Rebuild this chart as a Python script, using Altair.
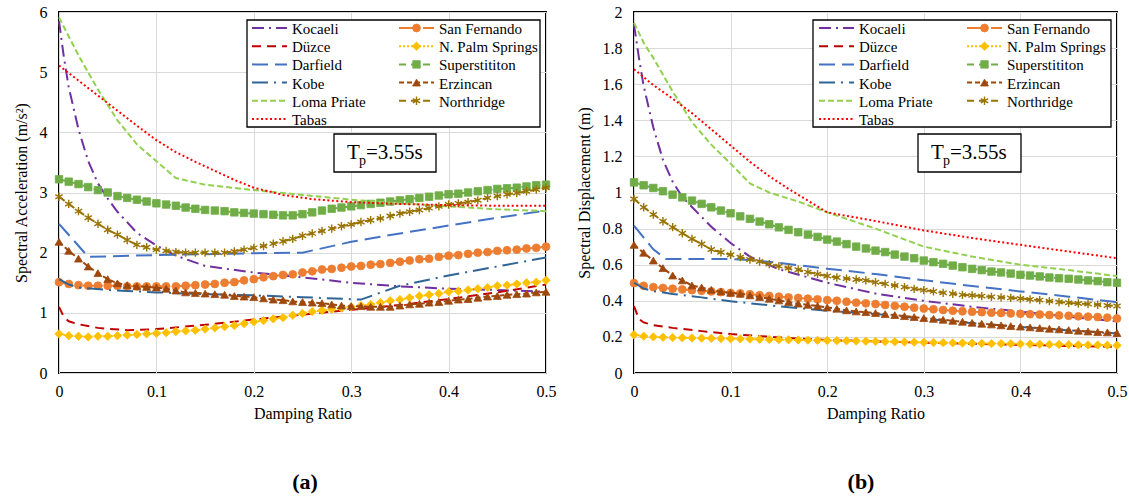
import altair as alt
import pandas as pd

FONT = "Liberation Serif"

# ---------------- x grid (damping ratio, step 0.01) ----------------
damping = [0.00, 0.01, 0.02, 0.03, 0.04, 0.05, 0.06, 0.07, 0.08, 0.09,
           0.10, 0.11, 0.12, 0.13, 0.14, 0.15, 0.16, 0.17, 0.18, 0.19,
           0.20, 0.21, 0.22, 0.23, 0.24, 0.25, 0.26, 0.27, 0.28, 0.29,
           0.30, 0.31, 0.32, 0.33, 0.34, 0.35, 0.36, 0.37, 0.38, 0.39,
           0.40, 0.41, 0.42, 0.43, 0.44, 0.45, 0.46, 0.47, 0.48, 0.49,
           0.50]

# ---------------- panel (a): spectral acceleration ----------------
koc_a_x = [0, 0.005, 0.01, 0.02, 0.03, 0.04, 0.05, 0.06, 0.08, 0.10, 0.12, 0.15, 0.20, 0.25, 0.30, 0.35, 0.40, 0.45, 0.50]
koc_a = [5.85, 5.25, 4.75, 4.05, 3.52, 3.15, 2.90, 2.68, 2.33, 2.12, 1.95, 1.78, 1.67, 1.59, 1.50, 1.44, 1.40, 1.38, 1.35]
duz_a_x = [0, 0.005, 0.01, 0.02, 0.04, 0.07, 0.10, 0.15, 0.20, 0.25, 0.30, 0.35, 0.40, 0.45, 0.50]
duz_a = [1.10, 0.93, 0.86, 0.81, 0.75, 0.71, 0.73, 0.80, 0.89, 0.97, 1.05, 1.13, 1.23, 1.34, 1.47]
dar_a_x = [0, 0.03, 0.10, 0.20, 0.25, 0.30, 0.35, 0.40, 0.45, 0.50]
dar_a = [2.48, 1.93, 1.96, 1.99, 2.00, 2.18, 2.32, 2.45, 2.58, 2.70]
kob_a_x = [0, 0.01, 0.02, 0.05, 0.10, 0.15, 0.20, 0.25, 0.31, 0.35, 0.40, 0.45, 0.50]
kob_a = [1.56, 1.47, 1.42, 1.38, 1.34, 1.31, 1.29, 1.26, 1.22, 1.45, 1.62, 1.77, 1.92]
lom_a_x = [0, 0.02, 0.04, 0.06, 0.08, 0.10, 0.12, 0.15, 0.20, 0.25, 0.30, 0.35, 0.40, 0.45, 0.50]
lom_a = [5.91, 5.28, 4.71, 4.20, 3.80, 3.52, 3.24, 3.13, 3.04, 2.96, 2.88, 2.82, 2.77, 2.72, 2.69]
tab_a_x = [0, 0.02, 0.04, 0.06, 0.08, 0.10, 0.12, 0.14, 0.16, 0.18, 0.20, 0.23, 0.26, 0.30, 0.35, 0.40, 0.45, 0.50]
tab_a = [5.11, 4.86, 4.61, 4.36, 4.11, 3.87, 3.67, 3.51, 3.36, 3.21, 3.08, 2.96, 2.89, 2.84, 2.81, 2.79, 2.78, 2.78]

sf_a = [1.51, 1.48, 1.46, 1.45, 1.45, 1.45, 1.45, 1.44, 1.44, 1.44,
        1.44, 1.44, 1.44, 1.45, 1.46, 1.47, 1.48, 1.50, 1.51, 1.54,
        1.56, 1.59, 1.61, 1.63, 1.64, 1.67, 1.69, 1.72, 1.73, 1.75,
        1.77, 1.78, 1.80, 1.81, 1.83, 1.85, 1.87, 1.89, 1.90, 1.93,
        1.95, 1.96, 1.98, 2.00, 2.01, 2.03, 2.04, 2.05, 2.07, 2.08,
        2.10]
nps_a = [0.65, 0.62, 0.61, 0.60, 0.61, 0.61, 0.62, 0.63, 0.64, 0.65,
         0.66, 0.67, 0.69, 0.70, 0.71, 0.73, 0.75, 0.77, 0.79, 0.82,
         0.85, 0.87, 0.90, 0.92, 0.96, 0.99, 1.02, 1.04, 1.06, 1.08,
         1.10, 1.12, 1.14, 1.17, 1.20, 1.22, 1.25, 1.28, 1.30, 1.32,
         1.35, 1.36, 1.38, 1.40, 1.42, 1.45, 1.46, 1.48, 1.50, 1.51,
         1.54]
sup_a = [3.22, 3.18, 3.14, 3.09, 3.04, 3.00, 2.94, 2.91, 2.88, 2.85,
         2.82, 2.80, 2.78, 2.75, 2.73, 2.71, 2.70, 2.69, 2.67, 2.66,
         2.65, 2.64, 2.63, 2.62, 2.62, 2.64, 2.67, 2.70, 2.73, 2.75,
         2.77, 2.79, 2.81, 2.83, 2.85, 2.87, 2.89, 2.91, 2.93, 2.95,
         2.97, 2.98, 3.00, 3.02, 3.04, 3.06, 3.07, 3.08, 3.10, 3.12,
         3.13]
erz_a = [2.18, 2.03, 1.90, 1.77, 1.66, 1.56, 1.49, 1.46, 1.44, 1.43,
         1.42, 1.40, 1.37, 1.34, 1.33, 1.32, 1.31, 1.30, 1.28, 1.27,
         1.26, 1.24, 1.22, 1.21, 1.19, 1.18, 1.17, 1.16, 1.14, 1.12,
         1.11, 1.11, 1.10, 1.10, 1.10, 1.12, 1.14, 1.15, 1.17, 1.18,
         1.20, 1.22, 1.23, 1.25, 1.27, 1.28, 1.30, 1.31, 1.32, 1.34,
         1.35]
nor_a = [2.93, 2.81, 2.69, 2.58, 2.48, 2.38, 2.30, 2.21, 2.13, 2.09,
         2.05, 2.03, 2.01, 2.00, 2.00, 2.00, 2.00, 2.00, 2.02, 2.05,
         2.08, 2.11, 2.15, 2.19, 2.23, 2.28, 2.32, 2.36, 2.40, 2.44,
         2.47, 2.51, 2.54, 2.57, 2.61, 2.65, 2.68, 2.71, 2.74, 2.77,
         2.80, 2.82, 2.84, 2.87, 2.91, 2.94, 2.97, 2.99, 3.02, 3.05,
         3.08]

# ---------------- panel (b): spectral displacement ----------------
koc_b_x = [0, 0.005, 0.01, 0.02, 0.03, 0.04, 0.05, 0.06, 0.08, 0.10, 0.12, 0.15, 0.20, 0.25, 0.30, 0.35, 0.40, 0.45, 0.50]
koc_b = [1.93, 1.75, 1.59, 1.36, 1.18, 1.06, 0.975, 0.92, 0.81, 0.72, 0.645, 0.575, 0.50, 0.44, 0.40, 0.367, 0.34, 0.312, 0.286]
duz_b_x = [0, 0.005, 0.01, 0.02, 0.04, 0.07, 0.10, 0.15, 0.20, 0.25, 0.30, 0.35, 0.40, 0.45, 0.50]
duz_b = [0.37, 0.30, 0.28, 0.265, 0.25, 0.232, 0.216, 0.197, 0.183, 0.175, 0.168, 0.162, 0.156, 0.150, 0.145]
dar_b_x = [0, 0.01, 0.02, 0.033, 0.05, 0.10, 0.12, 0.15, 0.20, 0.25, 0.30, 0.35, 0.40, 0.45, 0.50]
dar_b = [0.817, 0.75, 0.685, 0.632, 0.632, 0.632, 0.626, 0.610, 0.578, 0.548, 0.514, 0.482, 0.452, 0.423, 0.393]
kob_b_x = [0, 0.01, 0.02, 0.04, 0.07, 0.10, 0.14, 0.18, 0.21, 0.25, 0.30, 0.35, 0.40, 0.45, 0.50]
kob_b = [0.50, 0.468, 0.454, 0.438, 0.419, 0.398, 0.375, 0.354, 0.341, 0.327, 0.301, 0.276, 0.255, 0.236, 0.219]
lom_b_x = [0, 0.01, 0.02, 0.04, 0.06, 0.08, 0.10, 0.12, 0.14, 0.17, 0.20, 0.25, 0.30, 0.35, 0.40, 0.45, 0.50]
lom_b = [1.94, 1.83, 1.745, 1.56, 1.39, 1.265, 1.16, 1.05, 1.00, 0.95, 0.89, 0.80, 0.70, 0.645, 0.60, 0.57, 0.537]
tab_b_x = [0, 0.02, 0.04, 0.06, 0.08, 0.10, 0.12, 0.14, 0.16, 0.18, 0.20, 0.25, 0.30, 0.35, 0.40, 0.45, 0.50]
tab_b = [1.683, 1.595, 1.52, 1.44, 1.35, 1.26, 1.17, 1.09, 1.02, 0.955, 0.89, 0.842, 0.79, 0.748, 0.71, 0.673, 0.636]

sf_b = [0.498, 0.483, 0.476, 0.471, 0.467, 0.463, 0.459, 0.455, 0.452, 0.448,
        0.444, 0.441, 0.436, 0.431, 0.427, 0.423, 0.419, 0.416, 0.412, 0.408,
        0.404, 0.400, 0.395, 0.390, 0.386, 0.382, 0.377, 0.372, 0.367, 0.362,
        0.357, 0.353, 0.349, 0.345, 0.342, 0.339, 0.337, 0.334, 0.332, 0.330,
        0.328, 0.326, 0.324, 0.321, 0.319, 0.317, 0.314, 0.312, 0.310, 0.307,
        0.302]
nps_b = [0.212, 0.204, 0.200, 0.198, 0.196, 0.195, 0.194, 0.193, 0.192, 0.191,
         0.190, 0.189, 0.188, 0.187, 0.186, 0.185, 0.184, 0.183, 0.182, 0.181,
         0.180, 0.179, 0.178, 0.177, 0.176, 0.175, 0.174, 0.173, 0.172, 0.171,
         0.170, 0.169, 0.168, 0.167, 0.166, 0.165, 0.164, 0.163, 0.163, 0.162,
         0.161, 0.160, 0.159, 0.158, 0.158, 0.157, 0.156, 0.155, 0.155, 0.154,
         0.153]
sup_b = [1.056, 1.040, 1.025, 1.007, 0.988, 0.973, 0.955, 0.937, 0.918, 0.900,
         0.885, 0.868, 0.854, 0.839, 0.824, 0.807, 0.793, 0.780, 0.767, 0.754,
         0.739, 0.728, 0.714, 0.700, 0.690, 0.678, 0.670, 0.656, 0.645, 0.636,
         0.623, 0.614, 0.605, 0.595, 0.586, 0.577, 0.570, 0.562, 0.557, 0.551,
         0.544, 0.540, 0.535, 0.529, 0.525, 0.522, 0.518, 0.513, 0.509, 0.503,
         0.500]
erz_b = [0.710, 0.666, 0.623, 0.581, 0.540, 0.513, 0.485, 0.474, 0.461, 0.452,
         0.444, 0.439, 0.430, 0.421, 0.411, 0.402, 0.393, 0.384, 0.378, 0.371,
         0.363, 0.356, 0.347, 0.341, 0.337, 0.332, 0.326, 0.321, 0.315, 0.310,
         0.304, 0.300, 0.295, 0.289, 0.284, 0.278, 0.273, 0.269, 0.264, 0.260,
         0.257, 0.253, 0.249, 0.245, 0.242, 0.238, 0.234, 0.230, 0.227, 0.225,
         0.221]
nor_b = [0.964, 0.918, 0.878, 0.841, 0.808, 0.774, 0.743, 0.715, 0.684, 0.669,
         0.655, 0.642, 0.629, 0.618, 0.603, 0.592, 0.581, 0.572, 0.559, 0.548,
         0.537, 0.529, 0.523, 0.518, 0.513, 0.503, 0.494, 0.485, 0.476, 0.466,
         0.459, 0.452, 0.444, 0.439, 0.433, 0.430, 0.426, 0.422, 0.419, 0.416,
         0.413, 0.408, 0.404, 0.398, 0.393, 0.389, 0.385, 0.382, 0.378, 0.374,
         0.371]

x_ticks = [0, 0.1, 0.2, 0.3, 0.4, 0.5]
ya_ticks = [0, 1, 2, 3, 4, 5, 6]
yb_ticks = [0, 0.2, 0.4, 0.6, 0.8, 1, 1.2, 1.4, 1.6, 1.8, 2]

STAR = "M0,-1L0,1M-0.87,-0.5L0.87,0.5M-0.87,0.5L0.87,-0.5"
STYLE = {
    "Kocaeli":         dict(color="#7030A0", dash=[12, 5, 2, 5], shape=None),
    "Düzce":           dict(color="#C00000", dash=[9, 6], shape=None),
    "Darfield":        dict(color="#4472C4", dash=[16, 7], shape=None),
    "Kobe":            dict(color="#2F6496", dash=[16, 6, 2, 6], shape=None),
    "Loma Priate":     dict(color="#92D050", dash=[6, 3], shape=None),
    "Tabas":           dict(color="#FF0000", dash=[2, 2.5], shape=None),
    "San Fernando":    dict(color="#ED7D31", dash=[14, 4, 2, 4], shape="circle", size=62, filled=True),
    "N. Palm Springs": dict(color="#FFC000", dash=[2, 2], shape="diamond", size=70, filled=True),
    "Superstititon":   dict(color="#70AD47", dash=[7, 5], shape="square", size=56, filled=True),
    "Erzincan":        dict(color="#9E480E", dash=[5, 3], shape="triangle-up", size=62, filled=True),
    "Northridge":      dict(color="#997300", dash=[7, 5], shape=STAR, size=70, filled=False),
}
DRAW_ORDER = ["Kocaeli", "San Fernando", "Düzce", "N. Palm Springs", "Darfield",
              "Superstititon", "Kobe", "Erzincan", "Loma Priate", "Northridge", "Tabas"]
LEG_COL1 = ["Kocaeli", "Düzce", "Darfield", "Kobe", "Loma Priate", "Tabas"]
LEG_COL2 = ["San Fernando", "N. Palm Springs", "Superstititon", "Erzincan", "Northridge"]

series_a = {
    "Kocaeli": (koc_a_x, koc_a), "Düzce": (duz_a_x, duz_a), "Darfield": (dar_a_x, dar_a),
    "Kobe": (kob_a_x, kob_a), "Loma Priate": (lom_a_x, lom_a), "Tabas": (tab_a_x, tab_a),
    "San Fernando": (damping, sf_a), "N. Palm Springs": (damping, nps_a),
    "Superstititon": (damping, sup_a), "Erzincan": (damping, erz_a), "Northridge": (damping, nor_a),
}
series_b = {
    "Kocaeli": (koc_b_x, koc_b), "Düzce": (duz_b_x, duz_b), "Darfield": (dar_b_x, dar_b),
    "Kobe": (kob_b_x, kob_b), "Loma Priate": (lom_b_x, lom_b), "Tabas": (tab_b_x, tab_b),
    "San Fernando": (damping, sf_b), "N. Palm Springs": (damping, nps_b),
    "Superstititon": (damping, sup_b), "Erzincan": (damping, erz_b), "Northridge": (damping, nor_b),
}

ONE = pd.DataFrame({"k": [0]})
H = 361


def point_mark(st):
    if st["filled"]:
        return dict(shape=st["shape"], size=st["size"], filled=True, fill=st["color"],
                    stroke=st["color"], strokeWidth=0.8, opacity=1)
    return dict(shape=st["shape"], size=st["size"], filled=False, stroke=st["color"],
                strokeWidth=1.4, opacity=1)


def panel(series, ymax, yticks, ytitle, width, leg, tp, tag):
    xs = alt.Scale(domain=[0, 0.5], nice=False, zero=False)
    ys = alt.Scale(domain=[0, ymax], nice=False)
    xax = alt.Axis(values=x_ticks, title="Damping Ratio",
                   labelExpr="datum.value == 0 ? '0' : format(datum.value, '.1f')",
                   labelPadding=10, titlePadding=6, labelFlush=False)
    yax = alt.Axis(values=yticks, title=ytitle, labelExpr="format(datum.value, '~g')",
                   labelPadding=12, titlePadding=10, labelFlush=False)
    layers = []
    for name in DRAW_ORDER:
        xd, yv = series[name]
        df = pd.DataFrame({"d": xd, "v": yv})
        st = STYLE[name]
        enc = dict(x=alt.X("d:Q", scale=xs, axis=xax), y=alt.Y("v:Q", scale=ys, axis=yax))
        layers.append(alt.Chart(df).mark_line(color=st["color"], strokeDash=st["dash"],
                                              strokeWidth=2).encode(**enc))
        if st["shape"]:
            layers.append(alt.Chart(df).mark_point(**point_mark(st)).encode(**enc))

    # legend box and entries
    bx0, bx1, by0, by1, c1, c2, row0, rstep = leg
    layers.append(alt.Chart(ONE).mark_rect(fill="white", stroke="black", strokeWidth=1.3).encode(
        x=alt.value(bx0), x2=alt.value(bx1), y=alt.value(by0), y2=alt.value(by1)))
    for col_x, names in ((c1, LEG_COL1), (c2, LEG_COL2)):
        for i, name in enumerate(names):
            st = STYLE[name]
            yy = row0 + i * rstep
            layers.append(alt.Chart(ONE).mark_rule(color=st["color"], strokeDash=st["dash"],
                                                   strokeWidth=2).encode(
                x=alt.value(col_x), x2=alt.value(col_x + 35), y=alt.value(yy)))
            if st["shape"]:
                layers.append(alt.Chart(ONE).mark_point(**point_mark(st)).encode(
                    x=alt.value(col_x + 17.5), y=alt.value(yy)))
            layers.append(alt.Chart(ONE).mark_text(align="left", baseline="middle", font=FONT,
                                                   fontSize=15, color="black").encode(
                x=alt.value(col_x + 40), y=alt.value(yy + 1), text=alt.value(name)))

    # T_p annotation box
    tx0, tx1, ty0, ty1 = tp
    layers.append(alt.Chart(ONE).mark_rect(fill="white", stroke="black", strokeWidth=1.3).encode(
        x=alt.value(tx0), x2=alt.value(tx1), y=alt.value(ty0), y2=alt.value(ty1)))
    layers.append(alt.Chart(ONE).mark_text(align="left", baseline="alphabetic", font=FONT,
                                           fontSize=21, color="black").encode(
        x=alt.value(tx0 + 13), y=alt.value(ty0 + 25), text=alt.value("T")))
    layers.append(alt.Chart(ONE).mark_text(align="left", baseline="alphabetic", font=FONT,
                                           fontSize=14, color="black").encode(
        x=alt.value(tx0 + 25), y=alt.value(ty0 + 31), text=alt.value("p")))
    layers.append(alt.Chart(ONE).mark_text(align="left", baseline="alphabetic", font=FONT,
                                           fontSize=21, color="black").encode(
        x=alt.value(tx0 + 32), y=alt.value(ty0 + 25), text=alt.value("=3.55s")))

    # panel tag
    layers.append(alt.Chart(ONE).mark_text(align="center", baseline="middle", font=FONT,
                                           fontSize=22, fontWeight="bold", color="black").encode(
        x=alt.value(tag[1]), y=alt.value(470), text=alt.value(tag[0])))

    return alt.layer(*layers).properties(width=width, height=H)


pa = panel(series_a, 6, ya_ticks, "Spectral Acceleration (m/s²)", 487,
           (188, 481, 8, 115, 193, 340, 16, 18.2), (275, 377, 122, 160), ("(a)", 246))
pb = panel(series_b, 2, yb_ticks, "Spectral Displacement (m)", 483,
           (179, 477, 8, 115, 185, 333, 16, 18.2), (284, 387, 122, 160), ("(b)", 227))

chart = alt.hconcat(pa, pb, spacing=88, bounds="flush").properties(
    padding={"left": 12, "top": 3, "right": 0, "bottom": 0},
    background="white",
).configure_view(stroke="black", strokeWidth=2).configure_axis(
    domain=False, ticks=False, grid=True, gridColor="#D9D9D9", gridWidth=1,
    labelFont=FONT, labelFontSize=16, labelColor="black",
    titleFont=FONT, titleFontSize=16, titleFontWeight="normal", titleColor="black"
)

chart.save("out.html", embed_options={"renderer": "svg", "actions": False})
